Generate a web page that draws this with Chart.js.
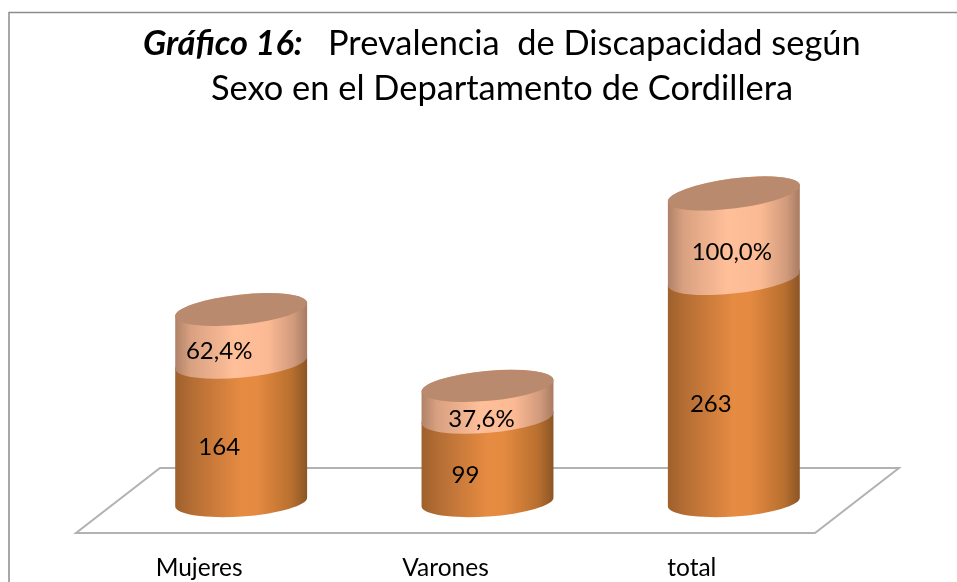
<!DOCTYPE html>
<html>
<head>
<meta charset="utf-8">
<style>html,body{margin:0;padding:0;background:#fff}canvas{display:block}</style>
<script src="https://cdn.jsdelivr.net/npm/chart.js@4/dist/chart.umd.min.js"></script>
</head>
<body>
<canvas id="c" width="957" height="582"></canvas>
<script>
const categories = ['Mujeres', 'Varones', 'total'];
const casos = [164, 99, 263];
const porcentaje = [62.4, 37.6, 100.0];
const titleBold = 'Gráfico 16:';
const titleRest = 'Prevalencia  de Discapacidad según';
const titleLine2 = 'Sexo en el Departamento de Cordillera';

const FONT = 'Lato, "Open Sans", sans-serif';
const casosNudge = [[-22, 15], [-22, 15], [-23, 14]];
const pctNudge = [[-22, 15], [-6, 17], [-2, 16]];

function tiltAt(y) { return 9 + (503 - y) * 8 / 311; }
function cylGrad(ctx, l, r, stops) {
  const g = ctx.createLinearGradient(l, 0, r, 0);
  stops.forEach(s => g.addColorStop(s[0], s[1]));
  return g;
}
const orangeStops = [[0, '#9f602c'], [0.12, '#b36d34'], [0.5, '#e68b42'], [0.62, '#e58a41'], [0.88, '#b9702f'], [1, '#8c5526']];
const lightStops = [[0, '#b08268'], [0.12, '#d9a181'], [0.45, '#ffbf99'], [0.7, '#fbba93'], [0.9, '#d09a7c'], [1, '#a87b62']];

function segment(ctx, el, stops, ry) {
  const l = el.x - el.width / 2, r = el.x + el.width / 2, rx = el.width / 2;
  const rb = -Math.atan(tiltAt(el.base) / el.width), rt = -Math.atan(tiltAt(el.y) / el.width);
  ctx.beginPath();
  ctx.ellipse(el.x, el.base, rx / Math.cos(rb), ry, rb, 0, Math.PI, false);
  ctx.ellipse(el.x, el.y, rx / Math.cos(rt), ry, rt, Math.PI, 2 * Math.PI, false);
  ctx.closePath();
  ctx.fillStyle = cylGrad(ctx, l, r, stops);
  ctx.fill();
}

const cylinderPlugin = {
  id: 'cylinders',
  beforeDraw(chart) {
    const ctx = chart.ctx, xs = chart.scales.x, ys = chart.scales.y;
    const y0 = ys.getPixelForValue(0);
    ctx.save();
    ctx.fillStyle = '#fff';
    ctx.fillRect(0, 0, chart.width, chart.height);
    ctx.strokeStyle = '#8c8c8c';
    ctx.lineWidth = 1.5;
    ctx.beginPath();
    ctx.moveTo(9, 600); ctx.lineTo(9, 12.5); ctx.lineTo(960, 12.5);
    ctx.stroke();
    ctx.strokeStyle = '#b2b2b2';
    ctx.lineWidth = 2;
    ctx.beginPath();
    ctx.moveTo(xs.left - 42, y0 + 31);
    ctx.lineTo(xs.right - 42, y0 + 31);
    ctx.lineTo(xs.right + 42, y0 - 34);
    ctx.lineTo(xs.left + 42, y0 - 34);
    ctx.closePath();
    ctx.stroke();
    ctx.fillStyle = '#000';
    ctx.textBaseline = 'alphabetic';
    ctx.textAlign = 'left';
    ctx.font = 'italic 700 34.4px ' + FONT;
    ctx.fillText(titleBold, 143, 55);
    ctx.font = '400 34.4px ' + FONT;
    ctx.fillText(titleRest, 328, 55);
    ctx.textAlign = 'center';
    ctx.fillText(titleLine2, 502, 100);
    ctx.restore();
  },
  beforeDatasetsDraw(chart) {
    const ctx = chart.ctx;
    const m0 = chart.getDatasetMeta(0).data, m1 = chart.getDatasetMeta(1).data;
    ctx.save();
    m0.forEach((el, i) => {
      segment(ctx, el, orangeStops, 14.5);
      const top = m1[i];
      segment(ctx, top, lightStops, 15);
      const rt = -Math.atan(tiltAt(top.y) / top.width);
      ctx.beginPath();
      ctx.ellipse(top.x, top.y, top.width / 2 / Math.cos(rt), 15, rt, 0, 2 * Math.PI);
      ctx.fillStyle = '#ba8a6e';
      ctx.fill();
    });
    ctx.fillStyle = '#000';
    ctx.textAlign = 'center';
    ctx.textBaseline = 'middle';
    ctx.font = '400 24px ' + FONT;
    m0.forEach((el, i) => {
      ctx.fillText(String(casos[i]), el.x + casosNudge[i][0], (el.y + el.base) / 2 + casosNudge[i][1]);
      const t = m1[i];
      ctx.fillText(porcentaje[i].toFixed(1).replace('.', ',') + '%', t.x + pctNudge[i][0], (t.y + t.base) / 2 + pctNudge[i][1]);
    });
    ctx.restore();
    return false;
  }
};

new Chart(document.getElementById('c'), {
  type: 'bar',
  data: {
    labels: categories,
    datasets: [
      { label: 'Casos', data: casos, backgroundColor: '#e68b42' },
      { label: 'Porcentaje', data: porcentaje, backgroundColor: '#ffbf99' }
    ]
  },
  options: {
    responsive: false,
    animation: false,
    layout: { padding: { left: 118, right: 100, top: 77, bottom: 0 } },
    categoryPercentage: 1,
    barPercentage: 0.5355,
    plugins: { legend: { display: false }, tooltip: { enabled: false }, title: { display: false } },
    scales: {
      x: {
        stacked: true,
        grid: { display: false },
        border: { display: false },
        afterFit(s) { s.height = 80; },
        ticks: { labelOffset: -42, padding: 43, maxRotation: 0, color: '#000', font: { family: FONT, size: 24.5 } }
      },
      y: { stacked: true, display: false, min: 0, max: 500 }
    }
  },
  plugins: [cylinderPlugin]
});
</script>
</body>
</html>
